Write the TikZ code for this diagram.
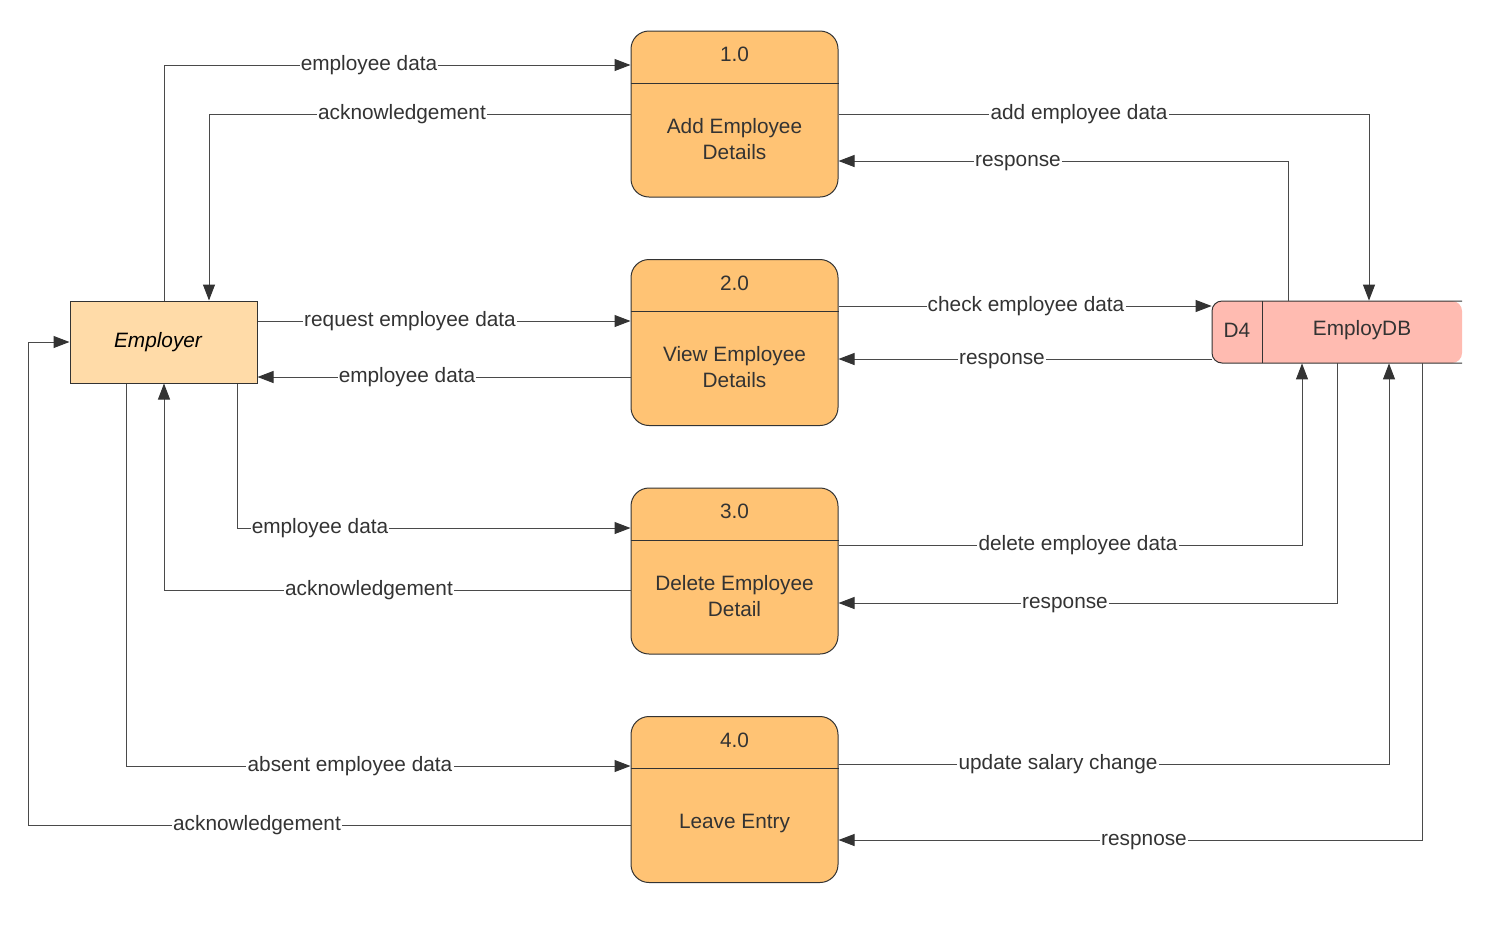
\documentclass[tikz,border=0pt]{standalone}
\usepackage{fontspec}
\setmainfont{Liberation Sans}
\usetikzlibrary{arrows.meta,calc}
\definecolor{procfill}{HTML}{FFC374}
\definecolor{entfill}{HTML}{FFDBA8}
\definecolor{dbfill}{HTML}{FFBBB1}
\definecolor{linec}{HTML}{4A4A4A}
\definecolor{txtc}{HTML}{333333}
\begin{document}
\begin{tikzpicture}[x=0.5pt,y=-0.5pt,
  font=\fontsize{10.4}{13}\selectfont,
  proc/.style={draw=txtc, fill=procfill, rounded corners=9pt, minimum width=103.5pt, minimum height=83pt, line width=0.5pt, inner sep=0pt},
  divline/.style={draw=txtc, line width=0.5pt},
  ptext/.style={text=txtc, align=center},
  flow/.style={draw=linec, line width=0.5pt, -{Triangle[length=8pt,width=6pt,color=txtc]}},
  lab/.style={fill=white, inner sep=0.6pt, text=txtc, text height=7.5pt, text depth=2.2pt}
]
\useasboundingbox (0,0) rectangle (1492,927);

% Employer
\node[draw=txtc, fill=entfill, line width=0.5pt, minimum width=93.5pt, minimum height=41pt, inner sep=0pt] (emp) at (163.5,342) {};
\node[font=\fontsize{10.4}{13}\selectfont\itshape] (empt) at (158,342) {Employer};

% Processes
\node[proc] (p1) at (734.5,114) {};
\node[proc] (p2) at (734.5,342.5) {};
\node[proc] (p3) at (734.5,571) {};
\node[proc] (p4) at (734.5,799.5) {};
\draw[divline] (p1.west |- 0,83) -- (p1.east |- 0,83);
\draw[divline] (p2.west |- 0,311) -- (p2.east |- 0,311);
\draw[divline] (p3.west |- 0,540) -- (p3.east |- 0,540);
\draw[divline] (p4.west |- 0,768) -- (p4.east |- 0,768);
\node[ptext] (p1n) at (734.5,54) {1.0};
\node[ptext] (p2n) at (734.5,283) {2.0};
\node[ptext] (p3n) at (734.5,511) {3.0};
\node[ptext] (p4n) at (734.5,740) {4.0};
\node[ptext] (p1t) at (734.5,139) {Add Employee\\Details};
\node[ptext] (p2t) at (734.5,367) {View Employee\\Details};
\node[ptext] (p3t) at (734.5,596) {Delete Employee\\Detail};
\node[ptext] (p4t) at (734.5,823) {Leave Entry};

% Data store
\node[minimum width=125pt, minimum height=31pt, inner sep=0pt] (db) at (1337,332) {};
\fill[dbfill, rounded corners=5pt] (1212,301) rectangle (1462,363);
\draw[txtc, line width=0.5pt, rounded corners=5pt] (1462,301) -- (1212,301) -- (1212,363) -- (1462,363);
\draw[divline] (1262,301) -- (1262,363);
\node[text=txtc] (dbid) at (1237,330) {D4};
\node[text=txtc] (dbname) at (1362,330) {EmployDB};

% Connectors
\draw[flow] (164,0 |- emp.north) |- (p1.west |- 0,65);
\draw[flow] (p1.west) -| (209,0 |- emp.north);
\draw[flow] (p1.east) -| (1369,0 |- db.north);
\draw[flow] (1288,0 |- db.north) |- (p1.east |- 0,161);
\draw[flow] (emp.east |- 0,321) -- (p2.west |- 0,321);
\draw[flow] (p2.west |- 0,377) -- (emp.east |- 0,377);
\draw[flow] (p2.east |- 0,306) -- (db.west |- 0,306);
\draw[flow] (db.west |- 0,359) -- (p2.east |- 0,359);
\draw[flow] (237,0 |- emp.south) |- (p3.west |- 0,528);
\draw[flow] (p3.west |- 0,590) -| (164,0 |- emp.south);
\draw[flow] (p3.east |- 0,545) -| (1302,0 |- db.south);
\draw[flow] (1337,0 |- db.south) |- (p3.east |- 0,603);
\draw[flow] (126,0 |- emp.south) |- (p4.west |- 0,766);
\coordinate (lbend) at (28,342);
\draw[flow] (p4.west |- 0,825) -| (lbend) -- (emp.west);
\draw[flow] (p4.east |- 0,764) -| (1389,0 |- db.south);
\draw[flow] (1422,0 |- db.south) |- (p4.east |- 0,840);

% Labels
\node[lab] at (369,65) {employee data};
\node[lab] at (402,114) {acknowledgement};
\node[lab] at (1079,114) {add employee data};
\node[lab] at (1018,161) {response};
\node[lab] at (410,321) {request employee data};
\node[lab] at (407,377) {employee data};
\node[lab] at (1026,306) {check employee data};
\node[lab] at (1002,359) {response};
\node[lab] at (320,528) {employee data};
\node[lab] at (369,590) {acknowledgement};
\node[lab] at (1078,545) {delete employee data};
\node[lab] at (1065,603) {response};
\node[lab] at (350,766) {absent employee data};
\node[lab] at (257,825) {acknowledgement};
\node[lab] at (1058,764) {update salary change};
\node[lab] at (1144,840) {respnose};
\end{tikzpicture}
\end{document}
